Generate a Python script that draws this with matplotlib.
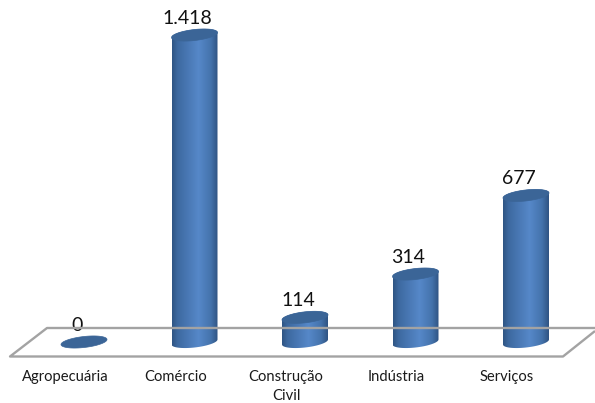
#!/usr/bin/python
"""Cylinder column chart, sectors on a tilted floor."""

import matplotlib
matplotlib.use("Agg")
from matplotlib import pyplot as plt
from matplotlib.colors import LinearSegmentedColormap
from matplotlib.lines import Line2D
from matplotlib.patches import PathPatch
from matplotlib.path import Path
from matplotlib.transforms import ScaledTranslation
import numpy as np

categories = ["Agropecuária", "Comércio", "Construção\nCivil", "Indústria", "Serviços"]
values = [0, 1418, 114, 314, 677]
value_labels = ["0", "1.418", "114", "314", "677"]

FIG_W = 595
FIG_H = 403
AXES_BOTTOM_PX = 362
X0_PX = 84.0
PX_PER_CAT = 110.5
PX_PER_UNIT = 0.2165
BASE_PX = 342.0

RX = 23.0
RY = 5.5
TILT = 2.5

plt.rcParams['font.family'] = ['Lato', 'DejaVu Sans']

fig = plt.figure(figsize=(FIG_W / 100.0, FIG_H / 100.0), dpi=100)
ax = fig.add_axes([0, (FIG_H - AXES_BOTTOM_PX) / float(FIG_H), 1,
                   AXES_BOTTOM_PX / float(FIG_H)])
ax.set_xlim(-X0_PX / PX_PER_CAT, (FIG_W - X0_PX) / PX_PER_CAT)
ax.set_ylim((BASE_PX - AXES_BOTTOM_PX) / PX_PER_UNIT, BASE_PX / PX_PER_UNIT)

for spine in ax.spines.values():
    spine.set_visible(False)
ax.set_yticks([])
ax.set_xticks(range(len(categories)))
ax.set_xticklabels(categories, fontsize=10.6, color='#1a1a1a', linespacing=1.5)
ax.tick_params(axis='x', length=0, pad=5.5)

# The labels sit left of the columns, the floor is drawn in perspective
label_shift = ScaledTranslation(-19 / 100.0, 0, fig.dpi_scale_trans)
for label in ax.get_xticklabels():
    label.set_transform(label.get_transform() + label_shift)


def _floor_line(xs, ys):
    """Add a floor edge, given in picture pixels."""
    line = Line2D([x / float(FIG_W) for x in xs],
                  [1 - y / float(FIG_H) for y in ys],
                  transform=fig.transFigure, color='#a3a3a3', linewidth=1.7,
                  solid_capstyle='butt', zorder=1)
    fig.add_artist(line)


_floor_line([595, 47, 10, 563, 595], [328, 328, 356.5, 356.5, 331])


def _ellipse(center, level, t):
    """Points of the tilted ellipse around (center, level), in data units."""
    x = center + RX * np.cos(t) / PX_PER_CAT
    y = level + (RY * np.sin(t) + TILT * np.cos(t)) / PX_PER_UNIT
    return x, y


body_cmap = LinearSegmentedColormap.from_list(
    "body", [(0.0, '#2f5584'), (0.12, '#3d69a0'), (0.58, '#5688c9'),
             (0.85, '#4473ac'), (1.0, '#2f5483')])
gradient = np.linspace(0, 1, 128).reshape(1, -1)

for i, value in enumerate(values):
    if value > 0:
        # lower half of the base, then upper half of the top
        t_low = np.linspace(np.pi, 2 * np.pi, 60)
        t_high = np.linspace(0, np.pi, 60)
        xb, yb = _ellipse(i, 0, t_low)
        xt, yt = _ellipse(i, value, t_high)
        verts = list(zip(xb, yb)) + list(zip(xt, yt)) + [(xb[0], yb[0])]
        codes = [Path.MOVETO] + [Path.LINETO] * (len(verts) - 2) + [Path.CLOSEPOLY]
        patch = PathPatch(Path(verts, codes), facecolor='none', edgecolor='none')
        ax.add_patch(patch)
        half = RX / PX_PER_CAT
        low = (RY + TILT) / PX_PER_UNIT
        img = ax.imshow(gradient, cmap=body_cmap, aspect='auto', zorder=3,
                        extent=[i - half, i + half, -low, value + low])
        img.set_clip_path(patch)

    t = np.linspace(0, 2 * np.pi, 120)
    xe, ye = _ellipse(i, value, t)
    ax.fill(xe, ye, color='#3b6597', linewidth=0.5, zorder=4)

    ax.annotate(value_labels[i], xy=(i, value), xytext=(-5, 12),
                textcoords='offset points', ha='center', va='center',
                fontsize=14, color='#111111', zorder=5,
                annotation_clip=False)

ax.set_xlim(-X0_PX / PX_PER_CAT, (FIG_W - X0_PX) / PX_PER_CAT)
ax.set_ylim((BASE_PX - AXES_BOTTOM_PX) / PX_PER_UNIT, BASE_PX / PX_PER_UNIT)

fig.savefig("out.png", dpi=100)
